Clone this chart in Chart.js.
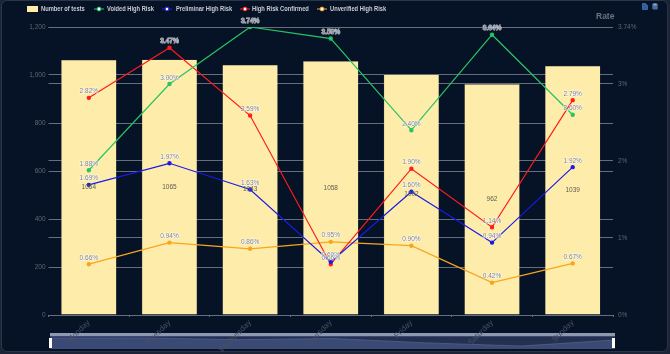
<!DOCTYPE html>
<html>
<head>
<meta charset="utf-8">
<script src="https://cdn.jsdelivr.net/npm/chart.js@4"></script>
<style>
  html, body { margin: 0; padding: 0; background: #1c2537; width: 670px; height: 354px; overflow: hidden; }
  #card { position: absolute; left: 1px; top: 0; width: 665px; height: 350px; background: #061226; border: 1px solid #2c3547; border-radius: 6px; }
  #chart { position: absolute; left: 0; top: 0; }
  #legend { position: absolute; left: 0; top: 0; font: bold 6.4px "Liberation Sans", sans-serif; color: #c9ccd3; }
  #legend span { position: absolute; top: 5px; white-space: nowrap; transform: scaleX(0.9); transform-origin: left center; }
  #legend svg { position: absolute; top: 6px; }
  #rate { position: absolute; left: 596px; top: 11px; font: bold 8.5px "Liberation Sans", sans-serif; color: #6c7282; }
  #sliderTop { position: absolute; left: 50px; top: 333px; width: 565px; height: 3px; background: #8e98b3; }
  #sliderBody { position: absolute; left: 50px; top: 337px; width: 565px; height: 12px; background: #25304f; }
  #sliderBottom { position: absolute; left: 50px; top: 336px; width: 565px; height: 1px; background: #3a4a75; }
  #shadow { position: absolute; left: 50px; top: 337px; }
  .handle { position: absolute; top: 338px; width: 3px; height: 10px; background: #fff; }
  .icon { position: absolute; top: 3px; }
</style>
</head>
<body>
<div id="card"></div>
<div id="sliderTop"></div>
<div id="sliderBottom"></div>
<div id="sliderBody"></div>
<canvas id="shadow" width="565" height="12"></canvas>
<div class="handle" style="left:49px"></div>
<div class="handle" style="left:612px"></div>
<canvas id="chart" width="670" height="354"></canvas>
<div id="legend"></div>
<div id="rate">Rate</div>
<svg class="icon" style="left:642px" width="6" height="7" viewBox="0 0 6 7"><path d="M0.5 0.5H3.5L5.5 2.5V6.5H0.5Z" fill="#2f5f9e" stroke="#4f86c6" stroke-width="0.6"/></svg>
<svg class="icon" style="left:652px" width="6" height="7" viewBox="0 0 6 7"><rect x="0.3" y="0.5" width="5.4" height="6" rx="1" fill="#4a6f9c"/><rect x="1.5" y="0.5" width="3" height="2" fill="#8fa8c6"/></svg>

<script>
const days = ["Monday", "Tuesday", "Wednesday", "Thursday", "Friday", "Saturday", "Sunday"];
const tests = [1064, 1065, 1043, 1058, 1002, 962, 1039];
const voided = [1.88, 3.00, 3.74, 3.59, 2.40, 3.64, 2.60];
const preliminary = [1.69, 1.97, 1.63, 0.69, 1.60, 0.94, 1.92];
const confirmed = [2.82, 3.47, 2.59, 0.66, 1.90, 1.14, 2.79];
const unverified = [0.66, 0.94, 0.86, 0.95, 0.90, 0.42, 0.67];
const leftTicks = [0, 200, 400, 600, 800, 1000, 1200];
const rightTicks = [0, 1, 2, 3, 3.74];

const BAR_COLOR = "#feecaa";
const GRID_COLOR = "#666d7c";
const FONT = "Liberation Sans";

function lineSet(label, data, color) {
  return {
    type: "line", label, data, yAxisID: "y1", order: 1,
    borderColor: color, backgroundColor: color,
    borderWidth: 1.2, pointRadius: 1.6, pointHoverRadius: 1.6, tension: 0
  };
}

// Value labels, grey text with a white edge
const valueLabels = {
  id: "valueLabels",
  afterDatasetsDraw(chart) {
    const ctx = chart.ctx;
    ctx.save();
    ctx.font = "6.5px '" + FONT + "'";
    ctx.textAlign = "center";
    chart.data.datasets.forEach((ds, i) => {
      const meta = chart.getDatasetMeta(i);
      meta.data.forEach((el, j) => {
        if (ds.type === "bar") {
          ctx.textBaseline = "middle";
          ctx.fillStyle = "#5f5d55";
          ctx.fillText(ds.data[j], el.x, (el.y + el.base) / 2);
        } else {
          const text = ds.data[j].toFixed(2) + "%";
          ctx.textBaseline = "bottom";
          ctx.lineWidth = 1;
          ctx.strokeStyle = "rgba(255,255,255,0.75)";
          ctx.strokeText(text, el.x, el.y - 3);
          ctx.fillStyle = "#7d8090";
          ctx.fillText(text, el.x, el.y - 3);
        }
      });
    });
    ctx.restore();
  }
};

new Chart(document.getElementById("chart"), {
  data: {
    labels: days,
    datasets: [
      { type: "bar", label: "Number of tests", data: tests, yAxisID: "y", order: 10,
        backgroundColor: BAR_COLOR, borderColor: "rgba(140,140,125,0.45)", borderWidth: 0.5,
        barPercentage: 0.69, categoryPercentage: 1 },
      lineSet("Voided High Risk", voided, "#27c463"),
      lineSet("Preliminar High Risk", preliminary, "#1a1ae8"),
      lineSet("High Risk Confirmed", confirmed, "#ff1c1c"),
      lineSet("Unverified High Risk", unverified, "#f7a61c")
    ]
  },
  options: {
    responsive: false,
    animation: false,
    layout: { padding: { top: 27, left: 0, right: 0, bottom: 0 } },
    plugins: { legend: { display: false }, tooltip: { enabled: false } },
    scales: {
      x: {
        grid: { drawOnChartArea: false, color: GRID_COLOR, tickLength: 2 },
        border: { color: GRID_COLOR },
        ticks: { color: "#4a5163", font: { family: FONT, size: 8 }, minRotation: 45, maxRotation: 45, padding: 1 },
        afterFit(scale) { scale.height = 39; }
      },
      y: {
        position: "left", min: 0, max: 1200,
        grid: { color: GRID_COLOR, tickLength: 0 },
        border: { display: false },
        afterBuildTicks(scale) { scale.ticks = leftTicks.map(v => ({ value: v })); },
        ticks: { color: "#5f6575", font: { family: FONT, size: 6.5 }, padding: 3,
          callback: v => v.toLocaleString("en-US") },
        afterFit(scale) { scale.width = 48.5; }
      },
      y1: {
        position: "right", min: 0, max: 3.74,
        grid: { color: GRID_COLOR, tickLength: 0 },
        border: { display: false },
        afterBuildTicks(scale) { scale.ticks = rightTicks.map(v => ({ value: v })); },
        ticks: { color: "#5f6575", font: { family: FONT, size: 6.5 }, padding: 5,
          callback: v => v + "%" },
        afterFit(scale) { scale.width = 57; }
      }
    }
  },
  plugins: [valueLabels]
});

// Slider preview of the bar series
new Chart(document.getElementById("shadow"), {
  type: "line",
  data: {
    labels: days,
    datasets: [{ data: tests, borderColor: "#5a6c9c", borderWidth: 0.6, pointRadius: 0,
      backgroundColor: "#3a4a75", fill: "start", tension: 0 }]
  },
  options: {
    responsive: false,
    animation: false,
    plugins: { legend: { display: false }, tooltip: { enabled: false } },
    scales: {
      x: { display: false, offset: false },
      y: { display: false, min: 924, max: 1077 }
    }
  }
});

// Legend row
const legendItems = [
  { name: "Number of tests", color: BAR_COLOR, swatchX: 27, textX: 41, bar: true },
  { name: "Voided High Risk", color: "#27c463", swatchX: 94, textX: 107 },
  { name: "Preliminar High Risk", color: "#1a1ae8", swatchX: 162, textX: 176 },
  { name: "High Risk Confirmed", color: "#ff1c1c", swatchX: 240, textX: 252 },
  { name: "Unverified High Risk", color: "#f7a61c", swatchX: 317, textX: 330 }
];
const legend = document.getElementById("legend");
legendItems.forEach(item => {
  const mark = item.bar
    ? `<svg style="left:${item.swatchX}px" width="11" height="6"><rect width="11" height="6" fill="${item.color}"/></svg>`
    : `<svg style="left:${item.swatchX}px" width="10" height="6"><path d="M0 3H10" stroke="${item.color}" stroke-width="1"/><circle cx="5" cy="3" r="1.9" fill="#fff" stroke="${item.color}" stroke-width="1"/></svg>`;
  legend.insertAdjacentHTML("beforeend", mark + `<span style="left:${item.textX}px">${item.name}</span>`);
});
</script>
</body>
</html>
